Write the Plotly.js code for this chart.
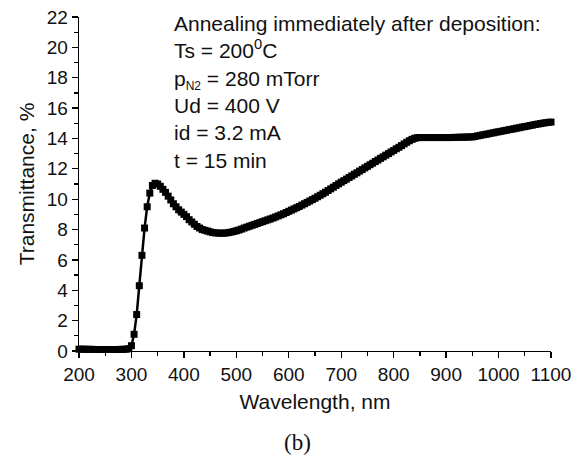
<!DOCTYPE html>
<html>
<head>
<meta charset="utf-8">
<script src="https://cdn.plot.ly/plotly-3.0.1.min.js"></script>
<style>
html,body{margin:0;padding:0;background:#fff;}
#chart{width:584px;height:458px;}
</style>
</head>
<body>
<div id="chart"></div>
<script>
// Wavelength (nm)
var wavelength = [
200,205,210,215,220,225,230,235,240,245,250,255,260,265,270,275,280,285,290,295,
300,305,310,315,320,325,330,335,340,345,350,355,360,365,370,375,380,385,390,395,
400,405,410,415,420,425,430,435,440,445,450,455,460,465,470,475,480,485,490,495,
500,505,510,515,520,525,530,535,540,545,550,555,560,565,570,575,580,585,590,595,
600,605,610,615,620,625,630,635,640,645,650,655,660,665,670,675,680,685,690,695,
700,705,710,715,720,725,730,735,740,745,750,755,760,765,770,775,780,785,790,795,
800,805,810,815,820,825,830,835,840,845,850,855,860,865,870,875,880,885,890,895,
900,905,910,915,920,925,930,935,940,945,950,955,960,965,970,975,980,985,990,995,
1000,1005,1010,1015,1020,1025,1030,1035,1040,1045,1050,1055,1060,1065,1070,1075,1080,1085,1090,1095,
1100
];
// Transmittance (%)
var transmittance = [
0.12,0.12,0.12,0.11,0.11,0.11,0.10,0.10,0.10,0.10,0.10,0.10,0.10,0.10,0.10,0.10,0.11,0.11,0.12,0.15,
0.35,1.1,2.4,4.3,6.3,8.1,9.5,10.4,10.9,11.05,11.0,10.85,10.65,10.45,10.2,9.95,9.7,9.5,9.3,9.15,
9.0,8.85,8.65,8.5,8.35,8.2,8.1,8.0,7.95,7.9,7.85,7.8,7.78,7.77,7.76,7.76,7.77,7.8,7.83,7.87,
7.92,7.97,8.03,8.1,8.16,8.22,8.28,8.34,8.4,8.46,8.52,8.58,8.64,8.7,8.76,8.83,8.9,8.97,9.04,9.12,
9.2,9.28,9.36,9.44,9.52,9.61,9.7,9.79,9.88,9.97,10.06,10.16,10.26,10.36,10.46,10.57,10.68,10.79,10.9,11.01,
11.12,11.22,11.32,11.43,11.53,11.64,11.74,11.85,11.95,12.06,12.16,12.27,12.37,12.48,12.58,12.69,12.79,12.9,13.0,13.11,
13.21,13.32,13.42,13.53,13.64,13.75,13.85,13.94,14.01,14.05,14.06,14.06,14.06,14.06,14.06,14.06,14.06,14.06,14.06,14.06,
14.06,14.06,14.06,14.07,14.07,14.08,14.08,14.09,14.09,14.1,14.1,14.13,14.17,14.2,14.24,14.27,14.3,14.34,14.37,14.41,
14.44,14.47,14.51,14.54,14.58,14.61,14.64,14.68,14.71,14.75,14.78,14.81,14.85,14.88,14.92,14.95,14.98,15.01,15.04,15.06,
15.08
];
var xTickVals = [200,300,400,500,600,700,800,900,1000,1100];
var yTickVals = [0,2,4,6,8,10,12,14,16,18,20,22];
var infoLines = [
  'Annealing immediately after deposition:',
  'Ts = 200<sup>0</sup>C',
  'p<sub><span style="font-size:12px">N2</span></sub> = 280 mTorr',
  'Ud = 400 V',
  'id = 3.2 mA',
  't = 15 min'
];
var xTitle = 'Wavelength, nm';
var yTitle = 'Transmittance, %';
var panelLabel = '(b)';

var font = 'Liberation Sans, Arial, sans-serif';
var trace = {
  x: wavelength, y: transmittance, type: 'scatter', mode: 'lines+markers',
  line: {color: '#000', width: 2.5},
  marker: {symbol: 'square', size: 7, color: '#000'},
  cliponaxis: false, hoverinfo: 'skip'
};
var axisCommon = {
  showgrid: false, zeroline: false, showline: true, linecolor: '#000', linewidth: 1.3,
  ticks: 'outside', ticklen: 6, tickwidth: 1.3, tickcolor: '#000',
  tickfont: {family: font, size: 19, color: '#111'},
  minor: {ticks: 'outside', ticklen: 4, tickwidth: 1.3, tickcolor: '#000'}
};
var layout = {
  width: 584, height: 458,
  margin: {l: 79, r: 33, t: 17, b: 107},
  paper_bgcolor: '#fff', plot_bgcolor: '#fff',
  showlegend: false,
  xaxis: Object.assign({}, axisCommon, {
    range: [200, 1100], tickmode: 'array', tickvals: xTickVals,
    minor: Object.assign({}, axisCommon.minor, {dtick: 50, tick0: 250}),
    title: {text: xTitle, font: {family: font, size: 21, color: '#111'}, standoff: 10}
  }),
  yaxis: Object.assign({}, axisCommon, {
    range: [0, 22], tickmode: 'array', tickvals: yTickVals,
    minor: Object.assign({}, axisCommon.minor, {dtick: 1, tick0: 1}),
    title: {text: yTitle, font: {family: font, size: 21, color: '#111'}, standoff: 6}
  }),
  annotations: [
    {xref: 'paper', yref: 'paper', x: 0.197, y: 1.021, xanchor: 'left', yanchor: 'top',
     align: 'left', showarrow: false, text: infoLines.join('<br>'),
     font: {family: font, size: 21, color: '#111'}},
    {xref: 'paper', yref: 'paper', x: 0.463, y: -0.275, xanchor: 'center', yanchor: 'middle',
     showarrow: false, text: panelLabel,
     font: {family: 'Liberation Serif, Times New Roman, serif', size: 23, color: '#111'}}
  ]
};
Plotly.newPlot('chart', [trace], layout, {staticPlot: true, displayModeBar: false});
</script>
</body>
</html>
